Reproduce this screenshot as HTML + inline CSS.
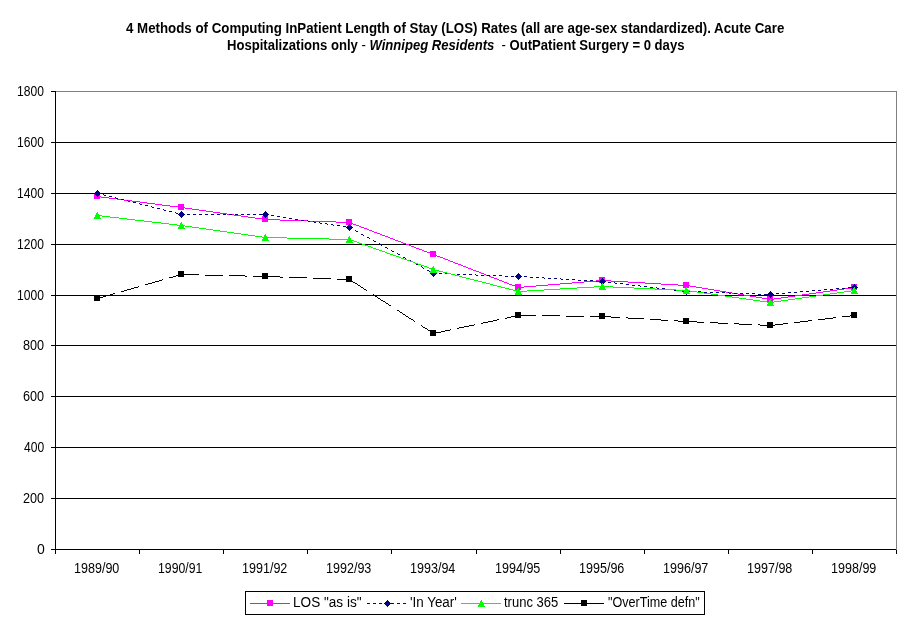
<!DOCTYPE html><html><head><meta charset="utf-8"><style>html,body{margin:0;padding:0;background:#fff;overflow:hidden;}svg{display:block;will-change:transform;}text{font-family:"Liberation Sans",sans-serif;}</style></head><body>
<svg width="911" height="623" viewBox="0 0 911 623">
<rect x="0" y="0" width="911" height="623" fill="#fff"/>
<g shape-rendering="crispEdges"><path d="M55 142h841v1h-841zM55 193h841v1h-841zM55 244h841v1h-841zM55 295h841v1h-841zM55 345h841v1h-841zM55 396h841v1h-841zM55 447h841v1h-841zM55 498h841v1h-841zM55 91h1v459h-1zM51 549h845v1h-845zM51 91h4v1h-4zM51 142h4v1h-4zM51 193h4v1h-4zM51 244h4v1h-4zM51 295h4v1h-4zM51 345h4v1h-4zM51 396h4v1h-4zM51 447h4v1h-4zM51 498h4v1h-4zM51 549h4v1h-4zM55 550h1v4h-1zM139 550h1v4h-1zM223 550h1v4h-1zM307 550h1v4h-1zM391 550h1v4h-1zM476 550h1v4h-1zM560 550h1v4h-1zM644 550h1v4h-1zM728 550h1v4h-1zM812 550h1v4h-1zM896 550h1v4h-1z" fill="#000"/><path d="M56 91h841v1h-841zM896 92h1v458h-1z" fill="#808080"/><path d="M97 196h4v1h-4zM101 197h8v1h-8zM109 198h8v1h-8zM117 199h7v1h-7zM124 200h8v1h-8zM132 201h8v1h-8zM140 202h7v1h-7zM147 203h8v1h-8zM155 204h7v1h-7zM162 205h8v1h-8zM170 206h8v1h-8zM178 207h7v1h-7zM185 208h7v1h-7zM192 209h7v1h-7zM199 210h7v1h-7zM206 211h7v1h-7zM213 212h7v1h-7zM220 213h7v1h-7zM227 214h7v1h-7zM234 215h7v1h-7zM241 216h7v1h-7zM248 217h7v1h-7zM255 218h7v1h-7zM262 219h18v1h-18zM280 220h28v1h-28zM308 221h28v1h-28zM336 222h15v1h-15zM351 223h2v1h-2zM353 224h3v1h-3zM356 225h3v1h-3zM359 226h2v1h-2zM361 227h3v1h-3zM364 228h3v1h-3zM367 229h2v1h-2zM369 230h3v1h-3zM372 231h2v1h-2zM374 232h3v1h-3zM377 233h3v1h-3zM380 234h2v1h-2zM382 235h3v1h-3zM385 236h3v1h-3zM388 237h2v1h-2zM390 238h3v1h-3zM393 239h2v1h-2zM395 240h3v1h-3zM398 241h3v1h-3zM401 242h2v1h-2zM403 243h3v1h-3zM406 244h3v1h-3zM409 245h2v1h-2zM411 246h3v1h-3zM414 247h2v1h-2zM416 248h3v1h-3zM419 249h3v1h-3zM422 250h2v1h-2zM424 251h3v1h-3zM427 252h3v1h-3zM430 253h2v1h-2zM432 254h3v1h-3zM435 255h2v1h-2zM437 256h3v1h-3zM440 257h3v1h-3zM443 258h2v1h-2zM445 259h3v1h-3zM448 260h2v1h-2zM450 261h3v1h-3zM453 262h2v1h-2zM455 263h3v1h-3zM458 264h3v1h-3zM461 265h2v1h-2zM463 266h3v1h-3zM466 267h2v1h-2zM468 268h3v1h-3zM471 269h2v1h-2zM473 270h3v1h-3zM476 271h3v1h-3zM479 272h2v1h-2zM481 273h3v1h-3zM484 274h2v1h-2zM486 275h3v1h-3zM489 276h2v1h-2zM491 277h3v1h-3zM494 278h3v1h-3zM497 279h2v1h-2zM499 280h3v1h-3zM596 280h15v1h-15zM502 281h2v1h-2zM584 281h12v1h-12zM611 281h17v1h-17zM504 282h3v1h-3zM572 282h12v1h-12zM628 282h17v1h-17zM507 283h2v1h-2zM560 283h12v1h-12zM645 283h16v1h-16zM509 284h3v1h-3zM548 284h12v1h-12zM661 284h17v1h-17zM512 285h3v1h-3zM536 285h12v1h-12zM678 285h12v1h-12zM515 286h2v1h-2zM524 286h12v1h-12zM690 286h6v1h-6zM517 287h7v1h-7zM696 287h6v1h-6zM851 287h3v1h-3zM702 288h6v1h-6zM844 288h7v1h-7zM708 289h6v1h-6zM837 289h7v1h-7zM714 290h6v1h-6zM830 290h7v1h-7zM720 291h6v1h-6zM823 291h7v1h-7zM726 292h6v1h-6zM816 292h7v1h-7zM732 293h6v1h-6zM809 293h7v1h-7zM738 294h6v1h-6zM802 294h7v1h-7zM744 295h6v1h-6zM795 295h7v1h-7zM750 296h6v1h-6zM788 296h7v1h-7zM756 297h6v1h-6zM781 297h7v1h-7zM762 298h6v1h-6zM774 298h7v1h-7zM768 299h6v1h-6zM94 193h6v6h-6zM178 204h6v6h-6zM262 216h6v6h-6zM346 219h6v6h-6zM430 251h6v6h-6zM515 284h6v6h-6zM599 277h6v6h-6zM683 282h6v6h-6zM767 296h6v6h-6zM851 284h6v6h-6z" fill="#FF00FF"/><path d="M97 193h3v1h-3zM103 194h1v1h-1zM104 195h2v1h-2zM109 196h3v1h-3zM115 197h1v1h-1zM116 198h2v1h-2zM121 199h3v1h-3zM127 200h1v1h-1zM128 201h2v1h-2zM133 202h3v1h-3zM139 203h1v1h-1zM140 204h2v1h-2zM145 205h3v1h-3zM151 206h1v1h-1zM152 207h2v1h-2zM157 208h3v1h-3zM163 209h1v1h-1zM164 210h2v1h-2zM169 211h3v1h-3zM175 212h1v1h-1zM176 213h2v1h-2zM181 214h3v1h-3zM187 214h3v1h-3zM193 214h3v1h-3zM199 214h3v1h-3zM205 214h3v1h-3zM211 214h3v1h-3zM217 214h3v1h-3zM223 214h3v1h-3zM229 214h3v1h-3zM235 214h3v1h-3zM241 214h3v1h-3zM247 214h3v1h-3zM253 214h3v1h-3zM259 214h3v1h-3zM265 214h3v1h-3zM271 215h3v1h-3zM277 216h3v1h-3zM283 217h3v1h-3zM289 218h3v1h-3zM295 219h3v1h-3zM301 220h3v1h-3zM307 220h1v1h-1zM308 221h2v1h-2zM313 221h1v1h-1zM314 222h2v1h-2zM319 222h1v1h-1zM320 223h2v1h-2zM325 223h2v1h-2zM327 224h1v1h-1zM331 224h2v1h-2zM333 225h1v1h-1zM337 225h3v1h-3zM343 226h3v1h-3zM349 227h1v1h-1zM350 228h2v1h-2zM355 230h1v1h-1zM356 231h2v1h-2zM361 234h2v1h-2zM363 235h1v1h-1zM367 237h2v1h-2zM369 238h1v1h-1zM373 240h1v1h-1zM374 241h2v1h-2zM379 243h1v1h-1zM380 244h1v1h-1zM381 245h1v1h-1zM385 247h2v1h-2zM387 248h1v1h-1zM391 250h1v1h-1zM392 251h2v1h-2zM397 253h1v1h-1zM398 254h2v1h-2zM403 257h2v1h-2zM405 258h1v1h-1zM409 260h2v1h-2zM411 261h1v1h-1zM415 263h1v1h-1zM416 264h2v1h-2zM421 266h1v1h-1zM422 267h1v1h-1zM423 268h1v1h-1zM427 270h2v1h-2zM429 271h1v1h-1zM433 273h3v1h-3zM439 273h3v1h-3zM445 273h3v1h-3zM451 274h3v1h-3zM457 274h3v1h-3zM463 274h3v1h-3zM469 274h3v1h-3zM475 274h1v1h-1zM476 275h2v1h-2zM481 275h3v1h-3zM487 275h3v1h-3zM493 275h3v1h-3zM499 275h3v1h-3zM505 276h3v1h-3zM511 276h3v1h-3zM517 276h4v1h-4zM524 276h3v1h-3zM530 277h3v1h-3zM536 277h3v1h-3zM542 277h2v1h-2zM544 278h1v1h-1zM548 278h3v1h-3zM554 278h3v1h-3zM560 278h1v1h-1zM561 279h2v1h-2zM566 279h3v1h-3zM572 279h3v1h-3zM578 280h3v1h-3zM584 280h3v1h-3zM590 280h3v1h-3zM596 281h3v1h-3zM602 281h3v1h-3zM608 282h3v1h-3zM614 282h1v1h-1zM615 283h2v1h-2zM620 283h3v1h-3zM626 284h3v1h-3zM632 285h3v1h-3zM638 285h2v1h-2zM640 286h1v1h-1zM644 286h3v1h-3zM650 287h3v1h-3zM656 287h1v1h-1zM848 287h3v1h-3zM657 288h2v1h-2zM662 288h3v1h-3zM836 288h3v1h-3zM842 288h3v1h-3zM668 289h3v1h-3zM824 289h3v1h-3zM830 289h3v1h-3zM674 290h3v1h-3zM680 290h2v1h-2zM812 290h3v1h-3zM818 290h3v1h-3zM682 291h1v1h-1zM686 291h3v1h-3zM692 291h3v1h-3zM698 291h3v1h-3zM800 291h3v1h-3zM806 291h3v1h-3zM704 292h3v1h-3zM710 292h3v1h-3zM716 292h3v1h-3zM722 292h3v1h-3zM728 292h1v1h-1zM788 292h3v1h-3zM794 292h3v1h-3zM729 293h2v1h-2zM734 293h3v1h-3zM740 293h3v1h-3zM746 293h3v1h-3zM752 293h3v1h-3zM776 293h3v1h-3zM782 293h3v1h-3zM758 294h3v1h-3zM764 294h3v1h-3zM770 294h3v1h-3zM97 190h1v1h-1zM96 191h3v1h-3zM95 192h5v1h-5zM94 193h7v1h-7zM95 194h5v1h-5zM96 195h3v1h-3zM97 196h1v1h-1zM181 211h1v1h-1zM180 212h3v1h-3zM179 213h5v1h-5zM178 214h7v1h-7zM179 215h5v1h-5zM180 216h3v1h-3zM181 217h1v1h-1zM265 211h1v1h-1zM264 212h3v1h-3zM263 213h5v1h-5zM262 214h7v1h-7zM263 215h5v1h-5zM264 216h3v1h-3zM265 217h1v1h-1zM349 224h1v1h-1zM348 225h3v1h-3zM347 226h5v1h-5zM346 227h7v1h-7zM347 228h5v1h-5zM348 229h3v1h-3zM349 230h1v1h-1zM433 270h1v1h-1zM432 271h3v1h-3zM431 272h5v1h-5zM430 273h7v1h-7zM431 274h5v1h-5zM432 275h3v1h-3zM433 276h1v1h-1zM518 273h1v1h-1zM517 274h3v1h-3zM516 275h5v1h-5zM515 276h7v1h-7zM516 277h5v1h-5zM517 278h3v1h-3zM518 279h1v1h-1zM602 278h1v1h-1zM601 279h3v1h-3zM600 280h5v1h-5zM599 281h7v1h-7zM600 282h5v1h-5zM601 283h3v1h-3zM602 284h1v1h-1zM686 288h1v1h-1zM685 289h3v1h-3zM684 290h5v1h-5zM683 291h7v1h-7zM684 292h5v1h-5zM685 293h3v1h-3zM686 294h1v1h-1zM770 291h1v1h-1zM769 292h3v1h-3zM768 293h5v1h-5zM767 294h7v1h-7zM768 295h5v1h-5zM769 296h3v1h-3zM770 297h1v1h-1zM854 284h1v1h-1zM853 285h3v1h-3zM852 286h5v1h-5zM851 287h7v1h-7zM852 288h5v1h-5zM853 289h3v1h-3zM854 290h1v1h-1z" fill="#000080"/><path d="M97 215h5v1h-5zM102 216h8v1h-8zM110 217h9v1h-9zM119 218h8v1h-8zM127 219h8v1h-8zM135 220h9v1h-9zM144 221h8v1h-8zM152 222h9v1h-9zM161 223h8v1h-8zM169 224h8v1h-8zM177 225h8v1h-8zM185 226h7v1h-7zM192 227h7v1h-7zM199 228h7v1h-7zM206 229h7v1h-7zM213 230h7v1h-7zM220 231h7v1h-7zM227 232h7v1h-7zM234 233h7v1h-7zM241 234h7v1h-7zM248 235h7v1h-7zM255 236h7v1h-7zM262 237h25v1h-25zM287 238h42v1h-42zM329 239h22v1h-22zM351 240h3v1h-3zM354 241h3v1h-3zM357 242h2v1h-2zM359 243h3v1h-3zM362 244h3v1h-3zM365 245h3v1h-3zM368 246h3v1h-3zM371 247h2v1h-2zM373 248h3v1h-3zM376 249h3v1h-3zM379 250h3v1h-3zM382 251h3v1h-3zM385 252h2v1h-2zM387 253h3v1h-3zM390 254h3v1h-3zM393 255h3v1h-3zM396 256h3v1h-3zM399 257h2v1h-2zM401 258h3v1h-3zM404 259h3v1h-3zM407 260h3v1h-3zM410 261h3v1h-3zM413 262h2v1h-2zM415 263h3v1h-3zM418 264h3v1h-3zM421 265h3v1h-3zM424 266h3v1h-3zM427 267h2v1h-2zM429 268h3v1h-3zM432 269h3v1h-3zM435 270h4v1h-4zM439 271h4v1h-4zM443 272h4v1h-4zM447 273h4v1h-4zM451 274h4v1h-4zM455 275h4v1h-4zM459 276h3v1h-3zM462 277h4v1h-4zM466 278h4v1h-4zM470 279h4v1h-4zM474 280h4v1h-4zM478 281h4v1h-4zM482 282h4v1h-4zM486 283h4v1h-4zM490 284h3v1h-3zM493 285h4v1h-4zM497 286h4v1h-4zM594 286h19v1h-19zM501 287h4v1h-4zM577 287h17v1h-17zM613 287h21v1h-21zM505 288h4v1h-4zM560 288h17v1h-17zM634 288h21v1h-21zM509 289h4v1h-4zM544 289h16v1h-16zM655 289h21v1h-21zM513 290h4v1h-4zM527 290h17v1h-17zM676 290h14v1h-14zM851 290h3v1h-3zM517 291h10v1h-10zM690 291h7v1h-7zM844 291h7v1h-7zM697 292h7v1h-7zM837 292h7v1h-7zM704 293h7v1h-7zM830 293h7v1h-7zM711 294h7v1h-7zM823 294h7v1h-7zM718 295h7v1h-7zM816 295h7v1h-7zM725 296h7v1h-7zM809 296h7v1h-7zM732 297h7v1h-7zM802 297h7v1h-7zM739 298h7v1h-7zM795 298h7v1h-7zM746 299h7v1h-7zM788 299h7v1h-7zM753 300h7v1h-7zM781 300h7v1h-7zM760 301h7v1h-7zM774 301h7v1h-7zM767 302h7v1h-7zM97 212h1v1h-1zM96 213h2v1h-2zM96 214h3v1h-3zM95 215h4v1h-4zM95 216h5v1h-5zM94 217h6v1h-6zM94 218h7v1h-7zM181 222h1v1h-1zM180 223h2v1h-2zM180 224h3v1h-3zM179 225h4v1h-4zM179 226h5v1h-5zM178 227h6v1h-6zM178 228h7v1h-7zM265 234h1v1h-1zM264 235h2v1h-2zM264 236h3v1h-3zM263 237h4v1h-4zM263 238h5v1h-5zM262 239h6v1h-6zM262 240h7v1h-7zM349 236h1v1h-1zM348 237h2v1h-2zM348 238h3v1h-3zM347 239h4v1h-4zM347 240h5v1h-5zM346 241h6v1h-6zM346 242h7v1h-7zM433 266h1v1h-1zM432 267h2v1h-2zM432 268h3v1h-3zM431 269h4v1h-4zM431 270h5v1h-5zM430 271h6v1h-6zM430 272h7v1h-7zM518 288h1v1h-1zM517 289h2v1h-2zM517 290h3v1h-3zM516 291h4v1h-4zM516 292h5v1h-5zM515 293h6v1h-6zM515 294h7v1h-7zM602 283h1v1h-1zM601 284h2v1h-2zM601 285h3v1h-3zM600 286h4v1h-4zM600 287h5v1h-5zM599 288h6v1h-6zM599 289h7v1h-7zM686 287h1v1h-1zM685 288h2v1h-2zM685 289h3v1h-3zM684 290h4v1h-4zM684 291h5v1h-5zM683 292h6v1h-6zM683 293h7v1h-7zM770 299h1v1h-1zM769 300h2v1h-2zM769 301h3v1h-3zM768 302h4v1h-4zM768 303h5v1h-5zM767 304h6v1h-6zM767 305h7v1h-7zM854 287h1v1h-1zM853 288h2v1h-2zM853 289h3v1h-3zM852 290h4v1h-4zM852 291h5v1h-5zM851 292h6v1h-6zM851 293h7v1h-7z" fill="#00FF00"/><path d="M180 274h19v1h-19zM176 275h4v1h-4zM205 275h18v1h-18zM229 275h16v1h-16zM173 276h3v1h-3zM245 276h2v1h-2zM253 276h27v1h-27zM169 277h4v1h-4zM280 277h3v1h-3zM289 277h18v1h-18zM313 278h18v1h-18zM162 279h1v1h-1zM337 279h13v1h-13zM159 280h3v1h-3zM350 280h2v1h-2zM155 281h4v1h-4zM352 281h1v1h-1zM152 282h3v1h-3zM353 282h2v1h-2zM148 283h4v1h-4zM355 283h2v1h-2zM145 284h3v1h-3zM357 284h1v1h-1zM358 285h2v1h-2zM138 286h1v1h-1zM360 286h1v1h-1zM134 287h4v1h-4zM361 287h2v1h-2zM131 288h3v1h-3zM363 288h1v1h-1zM127 289h4v1h-4zM364 289h2v1h-2zM124 290h3v1h-3zM366 290h1v1h-1zM121 291h3v1h-3zM113 293h2v1h-2zM110 294h3v1h-3zM373 294h1v1h-1zM106 295h4v1h-4zM374 295h1v1h-1zM103 296h3v1h-3zM375 296h2v1h-2zM99 297h4v1h-4zM377 297h1v1h-1zM97 298h2v1h-2zM378 298h2v1h-2zM380 299h1v1h-1zM381 300h2v1h-2zM383 301h2v1h-2zM385 302h1v1h-1zM386 303h2v1h-2zM388 304h1v1h-1zM389 305h2v1h-2zM397 310h2v1h-2zM399 311h1v1h-1zM400 312h2v1h-2zM402 313h1v1h-1zM403 314h2v1h-2zM405 315h1v1h-1zM516 315h20v1h-20zM542 315h18v1h-18zM850 315h4v1h-4zM406 316h2v1h-2zM511 316h5v1h-5zM566 316h18v1h-18zM590 316h21v1h-21zM842 316h8v1h-8zM408 317h1v1h-1zM507 317h4v1h-4zM611 317h9v1h-9zM626 317h2v1h-2zM833 317h3v1h-3zM409 318h2v1h-2zM505 318h2v1h-2zM628 318h16v1h-16zM825 318h8v1h-8zM411 319h2v1h-2zM497 319h2v1h-2zM650 319h11v1h-11zM818 319h7v1h-7zM413 320h1v1h-1zM493 320h4v1h-4zM661 320h7v1h-7zM674 320h4v1h-4zM808 320h4v1h-4zM414 321h1v1h-1zM488 321h5v1h-5zM678 321h19v1h-19zM800 321h8v1h-8zM483 322h5v1h-5zM697 322h7v1h-7zM710 322h8v1h-8zM794 322h6v1h-6zM481 323h2v1h-2zM718 323h10v1h-10zM734 323h5v1h-5zM783 323h5v1h-5zM474 324h1v1h-1zM739 324h13v1h-13zM758 324h2v1h-2zM775 324h8v1h-8zM421 325h1v1h-1zM469 325h5v1h-5zM760 325h15v1h-15zM422 326h1v1h-1zM464 326h5v1h-5zM423 327h2v1h-2zM459 327h5v1h-5zM425 328h2v1h-2zM457 328h2v1h-2zM427 329h1v1h-1zM450 329h1v1h-1zM428 330h2v1h-2zM445 330h5v1h-5zM430 331h1v1h-1zM441 331h4v1h-4zM431 332h2v1h-2zM436 332h5v1h-5zM433 333h3v1h-3zM94 295h6v6h-6zM178 271h6v6h-6zM262 273h6v6h-6zM346 276h6v6h-6zM430 330h6v6h-6zM515 312h6v6h-6zM599 313h6v6h-6zM683 318h6v6h-6zM767 322h6v6h-6zM851 312h6v6h-6z" fill="#000000"/><path d="M245 591h460v1h-460zM245 614h460v1h-460zM245 592h1v22h-1zM704 592h1v22h-1z" fill="#000"/><path d="M250 603h40v1h-40zM267 600h6v6h-6z" fill="#FF00FF"/><path d="M367 603h3v1h-3zM373 603h3v1h-3zM379 603h3v1h-3zM385 603h3v1h-3zM391 603h3v1h-3zM397 603h3v1h-3zM403 603h3v1h-3zM387 600h1v1h-1zM386 601h3v1h-3zM385 602h5v1h-5zM384 603h7v1h-7zM385 604h5v1h-5zM386 605h3v1h-3zM387 606h1v1h-1z" fill="#000080"/><path d="M461 603h40v1h-40zM481 600h1v1h-1zM480 601h2v1h-2zM480 602h3v1h-3zM479 603h4v1h-4zM479 604h5v1h-5zM478 605h6v1h-6zM478 606h7v1h-7z" fill="#00FF00"/><path d="M564 603h40v1h-40zM581 600h6v6h-6z" fill="#000000"/></g>
<text id="t1" x="126.000" y="33" font-size="14.0" font-weight="bold" fill="#000" textLength="658.305" lengthAdjust="spacingAndGlyphs" xml:space="preserve">4 Methods of Computing InPatient Length of Stay (LOS) Rates (all are age-sex standardized). Acute Care</text>
<text id="t2" x="227.000" y="50" font-size="14.0" font-weight="bold" fill="#000" textLength="457.438" lengthAdjust="spacingAndGlyphs" xml:space="preserve">Hospitalizations only <tspan font-weight="normal">-</tspan> <tspan font-style="italic">Winnipeg Residents</tspan>  <tspan font-weight="normal">-</tspan> OutPatient Surgery = 0 days</text>
<text id="y1800" x="17.000" y="96" font-size="14.0" font-weight="normal" fill="#000" textLength="26.859" lengthAdjust="spacingAndGlyphs" xml:space="preserve">1800</text>
<text id="y1600" x="17.000" y="147" font-size="14.0" font-weight="normal" fill="#000" textLength="26.859" lengthAdjust="spacingAndGlyphs" xml:space="preserve">1600</text>
<text id="y1400" x="17.000" y="198" font-size="14.0" font-weight="normal" fill="#000" textLength="26.859" lengthAdjust="spacingAndGlyphs" xml:space="preserve">1400</text>
<text id="y1200" x="17.000" y="249" font-size="14.0" font-weight="normal" fill="#000" textLength="26.859" lengthAdjust="spacingAndGlyphs" xml:space="preserve">1200</text>
<text id="y1000" x="17.000" y="300" font-size="14.0" font-weight="normal" fill="#000" textLength="26.859" lengthAdjust="spacingAndGlyphs" xml:space="preserve">1000</text>
<text id="y800" x="23.000" y="350" font-size="14.0" font-weight="normal" fill="#000" textLength="21.135" lengthAdjust="spacingAndGlyphs" xml:space="preserve">800</text>
<text id="y600" x="23.000" y="401" font-size="14.0" font-weight="normal" fill="#000" textLength="21.135" lengthAdjust="spacingAndGlyphs" xml:space="preserve">600</text>
<text id="y400" x="24.000" y="452" font-size="14.0" font-weight="normal" fill="#000" textLength="20.174" lengthAdjust="spacingAndGlyphs" xml:space="preserve">400</text>
<text id="y200" x="23.000" y="503" font-size="14.0" font-weight="normal" fill="#000" textLength="21.135" lengthAdjust="spacingAndGlyphs" xml:space="preserve">200</text>
<text id="y0" x="37.000" y="554" font-size="14.0" font-weight="normal" fill="#000" textLength="7.797" lengthAdjust="spacingAndGlyphs" xml:space="preserve">0</text>
<text id="x1989/90" x="74.000" y="573" font-size="14.0" font-weight="normal" fill="#000" textLength="45.338" lengthAdjust="spacingAndGlyphs" xml:space="preserve">1989/90</text>
<text id="x1990/91" x="158.000" y="573" font-size="14.0" font-weight="normal" fill="#000" textLength="44.283" lengthAdjust="spacingAndGlyphs" xml:space="preserve">1990/91</text>
<text id="x1991/92" x="242.000" y="573" font-size="14.0" font-weight="normal" fill="#000" textLength="45.338" lengthAdjust="spacingAndGlyphs" xml:space="preserve">1991/92</text>
<text id="x1992/93" x="326.000" y="573" font-size="14.0" font-weight="normal" fill="#000" textLength="45.338" lengthAdjust="spacingAndGlyphs" xml:space="preserve">1992/93</text>
<text id="x1993/94" x="410.000" y="573" font-size="14.0" font-weight="normal" fill="#000" textLength="45.338" lengthAdjust="spacingAndGlyphs" xml:space="preserve">1993/94</text>
<text id="x1994/95" x="495.000" y="573" font-size="14.0" font-weight="normal" fill="#000" textLength="45.338" lengthAdjust="spacingAndGlyphs" xml:space="preserve">1994/95</text>
<text id="x1995/96" x="579.000" y="573" font-size="14.0" font-weight="normal" fill="#000" textLength="45.338" lengthAdjust="spacingAndGlyphs" xml:space="preserve">1995/96</text>
<text id="x1996/97" x="663.000" y="573" font-size="14.0" font-weight="normal" fill="#000" textLength="45.338" lengthAdjust="spacingAndGlyphs" xml:space="preserve">1996/97</text>
<text id="x1997/98" x="747.000" y="573" font-size="14.0" font-weight="normal" fill="#000" textLength="45.338" lengthAdjust="spacingAndGlyphs" xml:space="preserve">1997/98</text>
<text id="x1998/99" x="831.000" y="573" font-size="14.0" font-weight="normal" fill="#000" textLength="45.338" lengthAdjust="spacingAndGlyphs" xml:space="preserve">1998/99</text>
<text id="l1" x="293.000" y="607" font-size="14.0" font-weight="normal" fill="#000" textLength="68.563" lengthAdjust="spacingAndGlyphs" xml:space="preserve">LOS &quot;as is&quot;</text>
<text id="l2" x="410.000" y="607" font-size="14.0" font-weight="normal" fill="#000" textLength="46.825" lengthAdjust="spacingAndGlyphs" xml:space="preserve">'In Year'</text>
<text id="l3" x="504.000" y="607" font-size="14.0" font-weight="normal" fill="#000" textLength="54.279" lengthAdjust="spacingAndGlyphs" xml:space="preserve">trunc 365</text>
<text id="l4" x="608.000" y="607" font-size="14.0" font-weight="normal" fill="#000" textLength="91.722" lengthAdjust="spacingAndGlyphs" xml:space="preserve">&quot;OverTime defn&quot;</text>
</svg></body></html>
